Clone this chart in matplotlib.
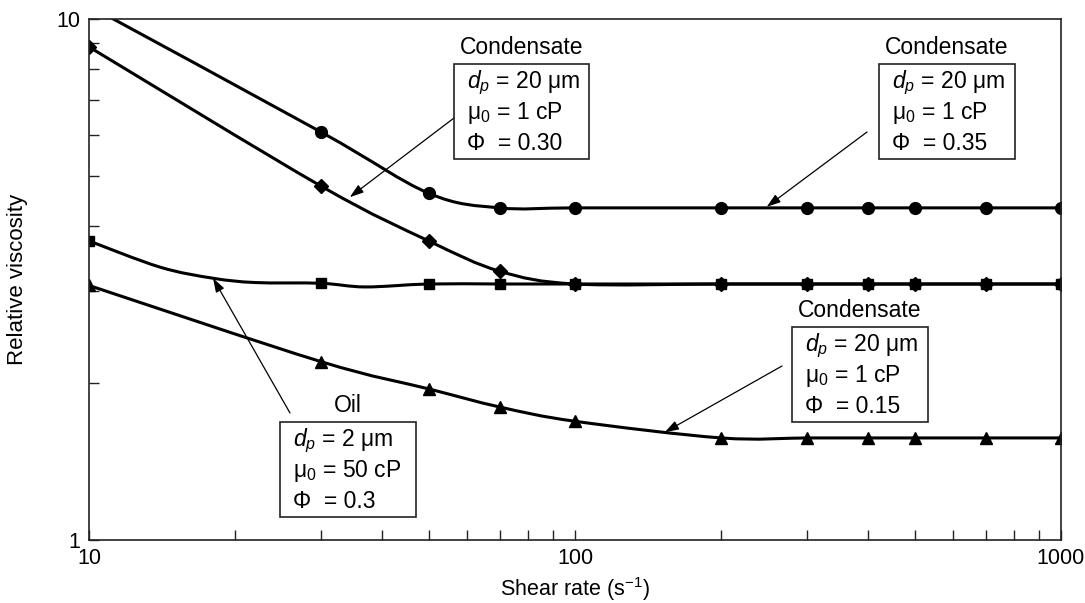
import numpy as np
import matplotlib
matplotlib.use('Agg')
import matplotlib.pyplot as plt
from matplotlib.path import Path
from matplotlib.patches import PathPatch, Rectangle
from matplotlib.ticker import FixedLocator, NullFormatter, FuncFormatter

plt.rcParams['font.family'] = ['Liberation Sans', 'DejaVu Sans']
plt.rcParams['mathtext.fontset'] = 'custom'
plt.rcParams['mathtext.rm'] = 'Liberation Sans'
plt.rcParams['mathtext.it'] = 'Liberation Sans:italic'
plt.rcParams['mathtext.bf'] = 'Liberation Sans:bold'

shear = [10, 30, 50, 70, 100, 200, 300, 400, 500, 700, 1000]
visc_cond35 = [10.6, 6.07, 4.63, 4.34, 4.34, 4.34, 4.34, 4.34, 4.34, 4.34, 4.34]
visc_cond30 = [8.84, 4.78, 3.75, 3.28, 3.10, 3.10, 3.10, 3.10, 3.10, 3.10, 3.10]
visc_oil = [3.75, 3.11, 3.10, 3.10, 3.10, 3.10, 3.10, 3.10, 3.10, 3.10, 3.10]
visc_cond15 = [3.08, 2.20, 1.95, 1.80, 1.69, 1.57, 1.57, 1.57, 1.57, 1.57, 1.57]

# the oil curve bends harder than the markers suggest; extra points
oil_curve_shear = [10, 14, 18, 22, 30, 37, 50, 70, 100, 200, 300, 400, 500, 700, 1000]
oil_curve_visc = [3.75, 3.34, 3.18, 3.12, 3.11, 3.06, 3.10, 3.10, 3.10, 3.10, 3.10,
                  3.10, 3.10, 3.10, 3.10]

x_ticks = [10, 100, 1000]
y_ticks = [1, 10]

W, H = 1085, 603


def fpx(x, y):
    # pixel position (origin top-left) -> figure fraction
    return x / W, 1 - y / H


def smooth_path(x, y):
    # smoothed line: cubic bezier through the points in log space
    p = np.column_stack([np.log10(x), np.log10(y)])
    n = len(p)
    verts = [p[0]]
    codes = [Path.MOVETO]
    for i in range(n - 1):
        p0 = p[max(i - 1, 0)]
        p3 = p[min(i + 2, n - 1)]
        c1 = p[i] + (p[i + 1] - p0) / 6
        c2 = p[i + 1] - (p3 - p[i]) / 6
        verts += [c1, c2, p[i + 1]]
        codes += [Path.CURVE4] * 3
    return Path(10 ** np.array(verts), codes)


fig = plt.figure(figsize=(W / 100, H / 100), dpi=100)
ax = fig.add_axes([89 / W, 63 / H, 972 / W, 521 / H])
ax.set_xscale('log')
ax.set_yscale('log')

series = [
    (shear, visc_cond35, shear, visc_cond35, 'o', 8.5),
    (shear, visc_cond30, shear, visc_cond30, 'D', 7.5),
    (oil_curve_shear, oil_curve_visc, shear, visc_oil, 's', 7.5),
    (shear, visc_cond15, shear, visc_cond15, '^', 9),
]
for cx, cy, mx, my, mk, ms in series:
    ax.add_patch(PathPatch(smooth_path(cx, cy), facecolor='none',
                           edgecolor='black', lw=2.2, transform=ax.transData))
    ax.plot(mx, my, ls='none', marker=mk, ms=ms, color='black')

ax.set_xlim(10, 1000)
ax.set_ylim(1, 10)

ax.xaxis.set_major_locator(FixedLocator(x_ticks))
ax.yaxis.set_major_locator(FixedLocator(y_ticks))
fmt = FuncFormatter(lambda v, p: f'{v:g}')
ax.xaxis.set_major_formatter(fmt)
ax.yaxis.set_major_formatter(fmt)
ax.xaxis.set_minor_formatter(NullFormatter())
ax.yaxis.set_minor_formatter(NullFormatter())
ax.tick_params(which='both', direction='in', length=7, width=1.0,
               top=False, right=False, colors='#222222', labelcolor='black')
ax.tick_params(axis='x', which='both', pad=6, labelsize=15.5)
ax.tick_params(axis='y', which='both', pad=6, labelsize=15.5)
for s in ax.spines.values():
    s.set_linewidth(1.2)
    s.set_color('#222222')

ax.set_xlabel('Shear rate (s$^{-1}$)', fontsize=15.5)
ax.set_ylabel('Relative viscosity', fontsize=16)
ax.xaxis.set_label_coords(0.5, -0.068)
ax.yaxis.set_label_coords(-0.063, 0.5)


def info_box(x0, y0, x1, y1, title, lines):
    fx0, fy1 = fpx(x0, y1)
    fx1, fy0 = fpx(x1, y0)
    fig.add_artist(Rectangle((fx0, fy1), fx1 - fx0, fy0 - fy1,
                             transform=fig.transFigure, fill=False,
                             lw=1.2, edgecolor='#222222'))
    tx, ty = fpx((x0 + x1) / 2, y0 - 10)
    fig.text(tx, ty, title, ha='center', va='baseline', fontsize=16.5)
    for k, s in enumerate(lines):
        lx, ly = fpx(x0 + 13, y0 + 24 + 31 * k)
        fig.text(lx, ly, s, ha='left', va='baseline', fontsize=16.5)


def pointer(tail, tip):
    ax.annotate('', xy=tip, xycoords='data', xytext=fpx(*tail),
                textcoords='figure fraction',
                arrowprops=dict(arrowstyle='-|>,head_length=0.6,head_width=0.2',
                                color='black', lw=0.9, mutation_scale=14,
                                shrinkA=0, shrinkB=0))


info_box(454, 64, 589, 159, 'Condensate',
         [r'$d_p$ = 20 μm', r'μ$_0$ = 1 cP', 'Φ  = 0.30'])
pointer((454, 118), (34.4, 4.55))

info_box(879, 64, 1015, 159, 'Condensate',
         [r'$d_p$ = 20 μm', r'μ$_0$ = 1 cP', 'Φ  = 0.35'])
pointer((867, 132), (248, 4.36))

info_box(792, 327, 928, 422, 'Condensate',
         [r'$d_p$ = 20 μm', r'μ$_0$ = 1 cP', 'Φ  = 0.15'])
pointer((782, 366), (153, 1.61))

info_box(280, 422, 416, 517, 'Oil',
         [r'$d_p$ = 2 μm', r'μ$_0$ = 50 cP', 'Φ  = 0.3'])
pointer((290, 413), (18.0, 3.18))

fig.savefig('out.png', dpi=100)
